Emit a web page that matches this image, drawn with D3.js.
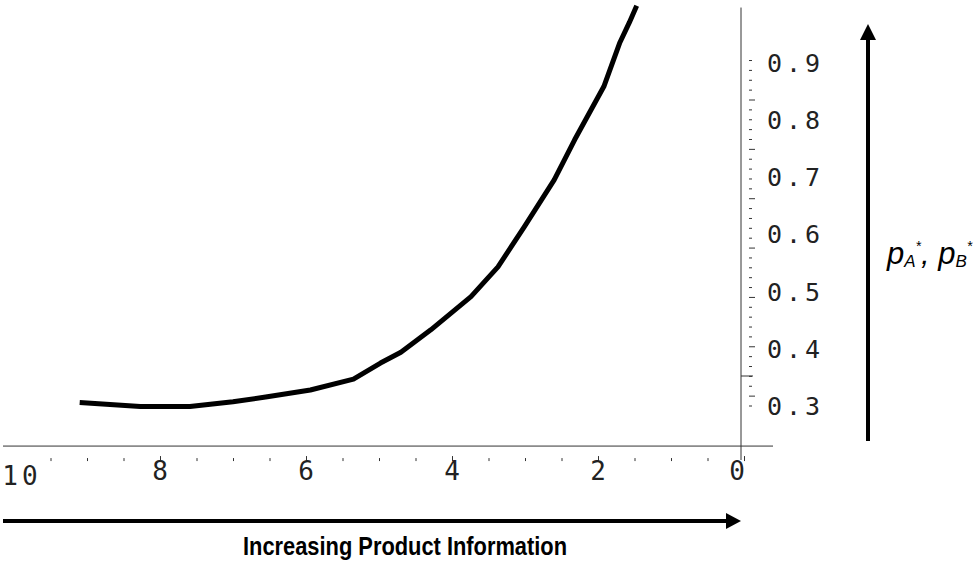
<!DOCTYPE html>
<html>

<head>
    <meta charset="utf-8">
    <script src="https://d3js.org/d3.v7.min.js"></script>
    <style>
        body { margin: 0; background: #fff; }
    </style>
</head>

<body>
    <div id="my_dataviz"></div>

    <script>
        // curve: amount of information (x) vs equilibrium price (y)
        const infoLevel = [9.10, 8.27, 7.59, 7.00, 6.53, 5.94, 5.35, 4.98, 4.70, 4.29, 3.74, 3.37, 3.01, 2.60, 2.32, 1.92, 1.70, 1.57, 1.47];
        const priceValue = [0.306, 0.299, 0.299, 0.3075, 0.316, 0.328, 0.347, 0.375, 0.394, 0.433, 0.491, 0.543, 0.613, 0.695, 0.765, 0.858, 0.935, 0.970, 0.999];

        // tick labels
        const xTickLabels = [10, 8, 6, 4, 2, 0];
        const yTickLabels = [0.3, 0.4, 0.5, 0.6, 0.7, 0.8, 0.9];

        const width = 974, height = 561;

        const svg = d3.select("#my_dataviz")
            .append("svg")
            .attr("width", width)
            .attr("height", height);

        // scales (x runs backwards, 0 on the right)
        const x = d3.scaleLinear().domain([0, 10]).range([744, 14]);
        const y = d3.scaleLinear().domain([0.3, 0.9]).range([406, 62.5]);

        const axisY = y(0.23);      // where the horizontal axis sits
        const axisX = x(0) - 3;     // where the vertical axis sits

        // horizontal axis line
        svg.append("line")
            .attr("x1", 3).attr("x2", 773)
            .attr("y1", axisY).attr("y2", axisY)
            .attr("stroke", "#333").attr("stroke-width", 1);

        // vertical axis line
        svg.append("line")
            .attr("x1", axisX).attr("x2", axisX)
            .attr("y1", y(0.996)).attr("y2", y(0.2056))
            .attr("stroke", "#333").attr("stroke-width", 1);

        // x ticks: minor every 0.5, major every 2 (drawn below the axis)
        const xMinor = d3.range(0, 19).map(k => k * 0.5 + 0.5).filter(v => v % 2 !== 0);
        const xMajor = [8, 6, 4, 2, 0];
        svg.append("g")
            .attr("transform", `translate(0, ${axisY + 12})`)
            .call(d3.axisBottom(x).tickValues(xMinor).tickSize(3).tickFormat(""))
            .call(g => g.select(".domain").remove())
            .call(g => g.selectAll("line").attr("stroke", "#333"));
        svg.append("g")
            .attr("transform", `translate(0, ${axisY + 10})`)
            .call(d3.axisBottom(x).tickValues(xMajor).tickSize(5).tickFormat(""))
            .call(g => g.select(".domain").remove())
            .call(g => g.selectAll("line").attr("stroke", "#333"));

        // x tick labels
        svg.append("g")
            .selectAll("text")
            .data(xTickLabels)
            .join("text")
            .attr("x", d => x(d) + (d === 0 ? -7 : d === 10 ? 8 : 0))
            .attr("y", d => d === 10 ? 485 : 480)
            .attr("text-anchor", "middle")
            .attr("font-family", "'DejaVu Sans Mono', monospace")
            .attr("font-size", 26)
            .attr("letter-spacing", d => d === 10 ? 4 : 0)
            .attr("fill", "#222")
            .text(d => d);

        // y ticks: small marks to the right of the axis
        const yMinor = d3.range(36).map(k => 0.3 + k / 58);
        svg.append("g")
            .selectAll("line")
            .data(yMinor)
            .join("line")
            .attr("x1", axisX + 8)
            .attr("x2", (d, i) => axisX + (i % 5 === 1 ? 14 : 11))
            .attr("y1", d => y(d)).attr("y2", d => y(d))
            .attr("stroke", "#333").attr("stroke-width", 1);
        // one longer tick touching the axis
        svg.append("line")
            .attr("x1", axisX).attr("x2", axisX + 12)
            .attr("y1", y(0.3524)).attr("y2", y(0.3524))
            .attr("stroke", "#333").attr("stroke-width", 1);

        // y tick labels
        svg.append("g")
            .selectAll("text")
            .data(yTickLabels)
            .join("text")
            .attr("x", 767)
            .attr("y", d => y(d))
            .attr("dy", "0.36em")
            .attr("font-family", "'DejaVu Sans Mono', monospace")
            .attr("font-size", 25)
            .attr("letter-spacing", 4)
            .attr("fill", "#222")
            .text(d => d3.format(".1f")(d));

        // the curve
        const points = infoLevel.map((v, i) => [v, priceValue[i]]);
        svg.append("path")
            .datum(points)
            .attr("fill", "none")
            .attr("stroke", "black")
            .attr("stroke-width", 5)
            .attr("stroke-linejoin", "round")
            .attr("d", d3.line()
                .x(d => x(d[0]))
                .y(d => y(d[1]))
            );

        // horizontal arrow + label
        svg.append("line")
            .attr("x1", 3).attr("x2", 730)
            .attr("y1", 521).attr("y2", 521)
            .attr("stroke", "black").attr("stroke-width", 4);
        svg.append("path")
            .attr("d", "M726,513 L741,521 L726,529 Z")
            .attr("fill", "black");
        svg.append("text")
            .attr("x", 405)
            .attr("y", 555)
            .attr("text-anchor", "middle")
            .attr("font-family", "'Liberation Sans Narrow', 'Arial Narrow', 'Liberation Sans', sans-serif")
            .attr("font-weight", "bold")
            .attr("font-size", 25)
            .attr("textLength", 324)
            .attr("lengthAdjust", "spacingAndGlyphs")
            .text("Increasing Product Information");

        // vertical arrow + label
        svg.append("line")
            .attr("x1", 868).attr("x2", 868)
            .attr("y1", 441).attr("y2", 36)
            .attr("stroke", "black").attr("stroke-width", 4);
        svg.append("path")
            .attr("d", "M860,40 L868,24 L876,40 Z")
            .attr("fill", "black");

        const lab = svg.append("text")
            .attr("x", 887)
            .attr("y", 264)
            .attr("font-family", "'Liberation Sans', Arial, sans-serif")
            .attr("font-style", "italic")
            .attr("font-size", 31)
            .attr("fill", "black");
        lab.append("tspan").text("p");
        lab.append("tspan").attr("font-size", 17).attr("dy", 3).text("A");
        lab.append("tspan").attr("font-size", 14).attr("dy", -16).text("*");
        lab.append("tspan").attr("dy", 13).text(", p");
        lab.append("tspan").attr("font-size", 17).attr("dy", 3).text("B");
        lab.append("tspan").attr("font-size", 14).attr("dy", -16).text("*");
    </script>

</body>

</html>
